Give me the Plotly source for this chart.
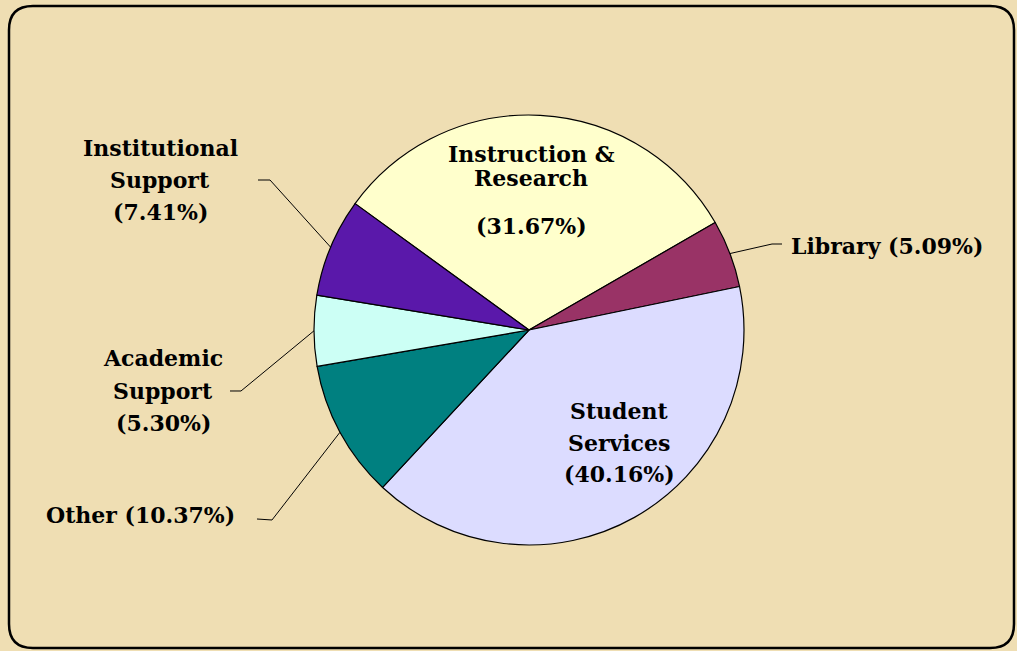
import math
import plotly.graph_objects as go

# ---- data ----
categories = ["Instruction & Research", "Library", "Student Services", "Other",
              "Academic Support", "Institutional Support"]
shares = [31.67, 5.09, 40.16, 10.37, 5.30, 7.41]
label_lines = [
    ["Instruction &", "Research", "", "({:.2f}%)"],
    ["Library ({:.2f}%)"],
    ["Student", "Services", "({:.2f}%)"],
    ["Other ({:.2f}%)"],
    ["Academic", "Support", "({:.2f}%)"],
    ["Institutional", "Support", "({:.2f}%)"],
]
colors = ["#FFFFCC", "#993366", "#DCDCFF", "#008080", "#CCFFF5", "#5A18AA"]

# ---- layout constants (pixels) ----
W, H = 1017, 651
CX, CY, R = 529, 330, 215
ROT = -54  # degrees clockwise from 12 o'clock

def px(x):
    return x / W

def py(y):
    return 1 - y / H

FONT = dict(family="DejaVu Serif", size=22, color="black")

fig = go.Figure(go.Pie(
    labels=categories, values=shares, sort=False, direction="clockwise",
    rotation=ROT, textinfo="none", hoverinfo="skip",
    marker=dict(colors=colors, line=dict(color="black", width=1.2)),
    domain=dict(x=[px(CX - R), px(CX + R)], y=[py(CY + R), py(CY - R)]),
    showlegend=False,
))

# label placements: (anchor x, first-line y, line spacing, xanchor, leader elbow or None)
placements = [
    (531, 154, 24, "center", None),
    (789, 246, 32, "left", [(782, 244), (772, 244)]),
    (619, 411, 31.5, "center", None),
    (237, 515, 32, "right", [(257, 519), (272, 520)]),
    (163, 358, 32.5, "center", [(230, 391), (241, 391)]),
    (160, 148, 32, "center", [(258, 180), (270, 180)]),
]

annotations = []
shapes = []
total = sum(shares)
cum = 0.0
for cat, val, lines, (ax, ay, dy, xa, elbow) in zip(categories, shares, label_lines, placements):
    mid = ROT + (cum + val / 2) / total * 360.0  # clockwise from 12 o'clock
    cum += val
    yy = ay
    for ln in lines:
        if ln:
            annotations.append(dict(
                x=px(ax), y=py(yy), xref="paper", yref="paper",
                text="<b>" + ln.format(val) + "</b>", showarrow=False,
                xanchor=xa, yanchor="middle", font=FONT))
        yy += dy
    if elbow:
        ex = CX + R * math.sin(math.radians(mid))
        ey = CY - R * math.cos(math.radians(mid))
        pts = elbow + [(ex, ey)]
        path = "M " + " L ".join(f"{px(x):.5f},{py(y):.5f}" for x, y in pts)
        shapes.append(dict(type="path", xref="paper", yref="paper", path=path,
                           line=dict(color="black", width=1)))

# rounded frame
x0, y0, x1, y1, rr = 9, 6, 1014, 648, 24
def P(x, y):
    return f"{px(x):.5f},{py(y):.5f}"
frame = (f"M {P(x0 + rr, y0)} L {P(x1 - rr, y0)} Q {P(x1, y0)} {P(x1, y0 + rr)} "
         f"L {P(x1, y1 - rr)} Q {P(x1, y1)} {P(x1 - rr, y1)} "
         f"L {P(x0 + rr, y1)} Q {P(x0, y1)} {P(x0, y1 - rr)} "
         f"L {P(x0, y0 + rr)} Q {P(x0, y0)} {P(x0 + rr, y0)} Z")
shapes.append(dict(type="path", xref="paper", yref="paper", path=frame,
                   line=dict(color="black", width=2.5), layer="below"))

fig.update_layout(
    width=W, height=H, margin=dict(l=0, r=0, t=0, b=0),
    paper_bgcolor="#EFDEB3", plot_bgcolor="#EFDEB3",
    annotations=annotations, shapes=shapes,
)

fig.write_html("out.html", config={"displayModeBar": False},
               post_script="document.body.style.margin='0';document.body.style.overflow='hidden';")
